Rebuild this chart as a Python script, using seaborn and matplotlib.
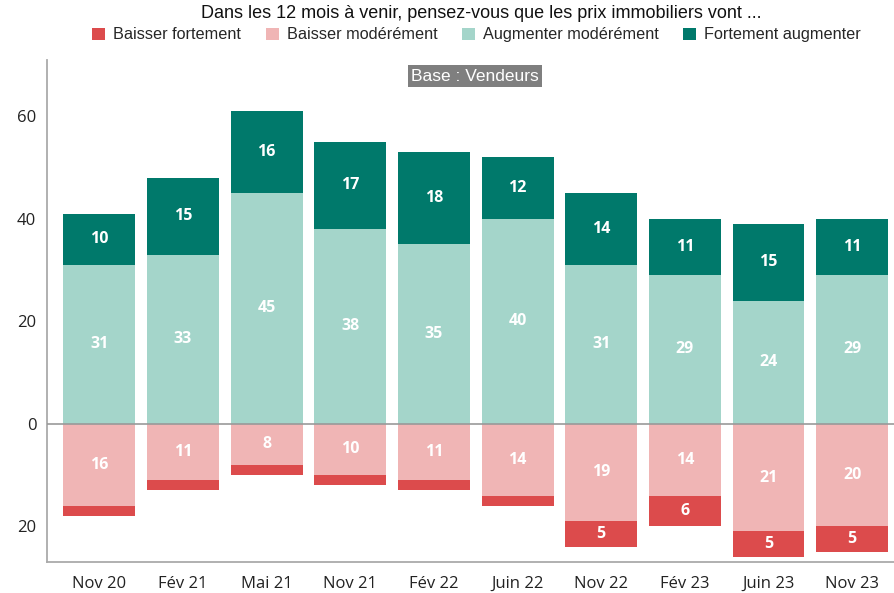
import matplotlib
matplotlib.use("Agg")
import matplotlib.pyplot as plt
import matplotlib.ticker as mticker
from matplotlib.patches import Patch
import seaborn as sns
import pandas as pd
import numpy as np

periods = ["Nov 20", "Fév 21", "Mai 21", "Nov 21", "Fév 22",
           "Juin 22", "Nov 22", "Fév 23", "Juin 23", "Nov 23"]
baisser_fort = [2, 2, 2, 2, 2, 2, 5, 6, 5, 5]
baisser_mod = [16, 11, 8, 10, 11, 14, 19, 14, 21, 20]
augmenter_mod = [31, 33, 45, 38, 35, 40, 31, 29, 24, 29]
augmenter_fort = [10, 15, 16, 17, 18, 12, 14, 11, 15, 11]

series_names = ["Baisser fortement", "Baisser modérément",
                "Augmenter modérément", "Fortement augmenter"]
colors = ["#dc4b4c", "#f0b5b5", "#a4d5ca", "#00796b"]

df = pd.DataFrame({
    "period": periods,
    "bf": baisser_fort,
    "bm": baisser_mod,
    "am": augmenter_mod,
    "af": augmenter_fort,
})
df["pos_total"] = df["am"] + df["af"]
df["neg_total"] = -(df["bm"] + df["bf"])
df["neg_mod"] = -df["bm"]

sns.set_style("white")
plt.rcParams["font.family"] = ["Open Sans", "DejaVu Sans"]

fig = plt.figure(figsize=(8.94, 5.93), dpi=100)
ax = fig.add_axes([0.053, 0.052, 0.947, 0.847])

bw = 0.86
# stack by overlaying cumulative totals
layers = [("pos_total", colors[3]), ("am", colors[2]),
          ("neg_total", colors[0]), ("neg_mod", colors[1])]
for col, c in layers:
    sns.barplot(data=df, x="period", y=col, color=c, width=bw,
                saturation=1, linewidth=0, edgecolor="none",
                ax=ax, order=periods)

# segment labels
for i, row in df.iterrows():
    segs = [
        (row["am"] / 2, row["am"]),
        (row["am"] + row["af"] / 2, row["af"]),
        (-row["bm"] / 2, row["bm"]),
        (-row["bm"] - row["bf"] / 2, row["bf"]),
    ]
    for ypos, val in segs:
        if val >= 4:
            ax.text(i, ypos, f"{val}", ha="center", va="center",
                    color="white", fontsize=11.5, fontweight="bold")

ax.axhline(0, color="#999999", lw=1.2, zorder=3)

ax.set_xlim(-0.62, 9.5)
ax.set_ylim(-27, 71)
ax.set_yticks([-20, 0, 20, 40, 60])
ax.yaxis.set_major_formatter(mticker.FuncFormatter(lambda v, p: f"{abs(int(v))}"))
ax.set_xlabel("")
ax.set_ylabel("")

for s in ["top", "right"]:
    ax.spines[s].set_visible(False)
for s in ["left", "bottom"]:
    ax.spines[s].set_color("#aaaaaa")
    ax.spines[s].set_linewidth(1.3)
ax.tick_params(axis="both", length=5, color="#aaaaaa", width=1.2,
               labelsize=12, labelcolor="#222222", pad=3)
ax.tick_params(axis="x", pad=5)

ax.text(0.505, 0.967, "Base : Vendeurs", transform=ax.transAxes,
        ha="center", va="center", color="white", fontsize=12.5,
        family=["Liberation Sans", "DejaVu Sans"],
        bbox=dict(boxstyle="square,pad=0.2", fc="#7f7f7f", ec="none"))

fig.text(0.538, 0.978, "Dans les 12 mois à venir, pensez-vous que les prix immobiliers vont ...",
         ha="center", va="center", fontsize=13, color="#111111",
         family=["Liberation Sans", "DejaVu Sans"])

handles = [Patch(facecolor=c, edgecolor="none") for c in colors]
fig.legend(handles, series_names, loc="center", bbox_to_anchor=(0.533, 0.941),
           ncol=4, frameon=False, handlelength=0.8, handleheight=0.8,
           handletextpad=0.5, columnspacing=1.5,
           prop={"family": ["Liberation Sans", "DejaVu Sans"], "size": 11.7})

fig.savefig("out.png", dpi=100)
